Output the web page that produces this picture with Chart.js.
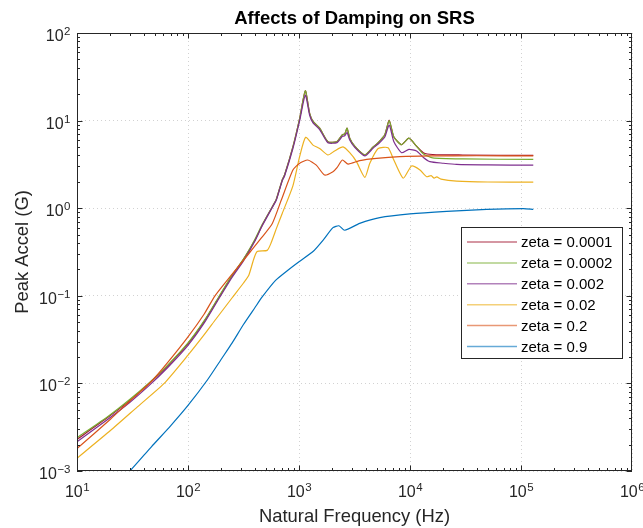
<!DOCTYPE html>
<html>
<head>
<meta charset="utf-8">
<script src="https://cdn.jsdelivr.net/npm/chart.js@4"></script>
<style>
  html, body { margin: 0; padding: 0; background: #fff; }
  #wrap { width: 643px; height: 528px; position: relative; }
</style>
</head>
<body>
<div id="wrap"><canvas id="srs"></canvas></div>
<script>
const FONT = '"Liberation Sans", Arial, Helvetica, sans-serif';

const chartTitle = 'Affects of Damping on SRS';
const xTitle = 'Natural Frequency (Hz)';
const yTitle = 'Peak Accel (G)';

// decade exponents used for the tick labels
const xExps = [1, 2, 3, 4, 5, 6];
const yExps = [-3, -2, -1, 0, 1, 2];

const labels = ['zeta = 0.0001', 'zeta = 0.0002', 'zeta = 0.002', 'zeta = 0.02', 'zeta = 0.2', 'zeta = 0.9'];
const colors = ['#A2142F', '#77AC30', '#7E2F8E', '#EDB120', '#D95319', '#0072BD'];

// zeta = 0.0001
const hz1 = [10, 19, 30, 44, 66, 100, 140, 189, 250, 316, 400, 466, 575, 624, 706, 741, 881, 1014, 1140, 1247, 1337, 1535, 1820, 2200, 2460, 2580, 2710, 2864, 3176, 3918, 4660, 5164, 5930, 6490, 7160, 8400, 9770, 11460, 13200, 16000, 30000, 129000];
const g1  = [0.0023, 0.0041, 0.0064, 0.0098, 0.016, 0.0285, 0.051, 0.095, 0.17, 0.26, 0.43, 0.64, 1.04, 1.26, 2.1, 2.39, 5.0, 10.6, 21.9, 12.1, 9.8, 8.2, 5.75, 5.75, 6.9, 7.0, 8.2, 6.3, 5.1, 4.05, 5.0, 5.6, 6.9, 10.1, 6.5, 5.3, 6.3, 5.1, 4.3, 4.1, 4.05, 4.0];

// zeta = 0.0002
const hz2 = [10, 19, 30, 44, 66, 100, 140, 189, 250, 316, 400, 466, 575, 624, 706, 741, 881, 1014, 1140, 1247, 1337, 1535, 1820, 2200, 2460, 2580, 2710, 2864, 3176, 3918, 4660, 5164, 5930, 6490, 7160, 8400, 9770, 11460, 13200, 16000, 30000, 129000];
const g2  = [0.0024, 0.0042, 0.0066, 0.01, 0.0163, 0.029, 0.052, 0.097, 0.172, 0.262, 0.44, 0.65, 1.04, 1.26, 2.1, 2.39, 5.0, 10.6, 21.9, 12.1, 9.8, 8.2, 5.75, 5.75, 6.9, 7.0, 8.2, 6.3, 5.1, 4.05, 5.0, 5.6, 6.9, 10.0, 6.5, 5.3, 6.3, 5.1, 4.16, 3.75, 3.65, 3.6];

// zeta = 0.002
const hz3 = [10, 19, 30, 44, 66, 100, 140, 189, 250, 316, 400, 466, 575, 624, 706, 741, 881, 1014, 1140, 1247, 1337, 1535, 1820, 2200, 2460, 2580, 2710, 2864, 3176, 3918, 4660, 5164, 5930, 6490, 7160, 8400, 9770, 11460, 13200, 15100, 20000, 26300, 50000, 129000];
const g3  = [0.00216, 0.0039, 0.0061, 0.0093, 0.0153, 0.0272, 0.049, 0.092, 0.163, 0.25, 0.42, 0.63, 1.02, 1.23, 2.05, 2.33, 4.8, 10.0, 19.5, 11.5, 9.4, 7.9, 5.6, 5.6, 6.6, 6.7, 7.3, 6.0, 4.95, 3.95, 4.85, 5.4, 6.5, 8.9, 5.75, 4.3, 4.7, 4.5, 3.8, 3.4, 3.26, 3.16, 3.12, 3.1];

// zeta = 0.02
const hz4 = [10, 20, 35, 61, 100, 140, 178, 250, 316, 353, 390, 420, 517, 560, 630, 706, 881, 1014, 1148, 1337, 1535, 1824, 2090, 2493, 2864, 3294, 3918, 4345, 5164, 6350, 7047, 8690, 10330, 12300, 14130, 15500, 16500, 17400, 19000, 26300, 50000, 129000];
const g4  = [0.0014, 0.0029, 0.0054, 0.01, 0.021, 0.036, 0.054, 0.095, 0.14, 0.172, 0.26, 0.32, 0.33, 0.40, 0.6, 0.87, 1.8, 3.9, 6.45, 5.25, 4.8, 4.05, 4.5, 5.0, 4.3, 3.4, 2.25, 3.26, 4.8, 4.9, 3.7, 2.2, 3.03, 2.73, 2.29, 2.35, 2.2, 2.28, 2.15, 2.04, 1.99, 1.98];

// zeta = 0.2
const hz5 = [10, 20, 30, 46, 66, 100, 140, 175, 250, 351, 460, 575, 693, 881, 1014, 1200, 1432, 1700, 2023, 2200, 2460, 2770, 3520, 4990, 8090, 15000, 40000, 129000];
const g5  = [0.0018, 0.0039, 0.0063, 0.0103, 0.0175, 0.034, 0.062, 0.1, 0.177, 0.3, 0.46, 0.67, 1.24, 2.73, 3.26, 3.55, 3.1, 2.39, 2.61, 2.9, 3.55, 3.19, 3.49, 3.7, 3.87, 3.95, 3.97, 3.95];

// zeta = 0.9
const hz6 = [10, 20, 30, 47, 70, 100, 150, 200, 250, 316, 400, 466, 615, 794, 1000, 1337, 1644, 2023, 2290, 2580, 3520, 5340, 9980, 21400, 49000, 105000, 129000];
const g6  = [0.00024, 0.0006, 0.001, 0.0019, 0.0033, 0.0056, 0.011, 0.019, 0.029, 0.047, 0.073, 0.097, 0.15, 0.196, 0.245, 0.32, 0.43, 0.6, 0.63, 0.56, 0.67, 0.78, 0.86, 0.92, 0.97, 0.99, 0.97];

const series = [[hz1, g1], [hz2, g2], [hz3, g3], [hz4, g4], [hz5, g5], [hz6, g6]];

const AXIS = '#262626';
const GRID = '#d2d2d2';

const isDecade = (v) => Math.abs(Math.log10(v) - Math.round(Math.log10(v))) < 1e-9;

function drawPow(ctx, x, y, exp, align) {
  // "10" with a raised exponent, real text
  const baseFont = `16px ${FONT}`;
  const supFont = `11.5px ${FONT}`;
  const sup = String(exp).replace('-', '\u2212');
  ctx.font = baseFont;
  const wb = ctx.measureText('10').width;
  ctx.font = supFont;
  const we = ctx.measureText(sup).width;
  const left = align === 'right' ? x - wb - we : x - (wb + we) / 2;
  ctx.textAlign = 'left';
  ctx.textBaseline = 'alphabetic';
  ctx.fillStyle = AXIS;
  ctx.font = baseFont;
  ctx.fillText('10', left, y);
  ctx.font = supFont;
  ctx.fillText(sup, left + wb + 0.5, y - 6);
}

const matlabAxes = {
  id: 'matlabAxes',
  afterDatasetsDraw(chart) {
    const { ctx, chartArea: a, scales: { x, y } } = chart;
    ctx.save();

    // box
    ctx.strokeStyle = AXIS;
    ctx.lineWidth = 1;
    ctx.strokeRect(a.left + 0.5, a.top + 0.5, a.right - a.left - 1, a.bottom - a.top - 1);

    // inward ticks on all four sides
    ctx.beginPath();
    for (let e = xExps[0]; e < xExps[xExps.length - 1]; e++) {
      for (let m = 1; m <= 9; m++) {
        const px = Math.round(x.getPixelForValue(m * 10 ** e)) + 0.5;
        const len = m === 1 ? 5.5 : 3;
        ctx.moveTo(px, a.bottom); ctx.lineTo(px, a.bottom - len);
        ctx.moveTo(px, a.top); ctx.lineTo(px, a.top + len);
      }
    }
    for (let e = yExps[0]; e < yExps[yExps.length - 1]; e++) {
      for (let m = 1; m <= 9; m++) {
        const py = Math.round(y.getPixelForValue(m * 10 ** e)) + 0.5;
        const len = m === 1 ? 5.5 : 3;
        ctx.moveTo(a.left, py); ctx.lineTo(a.left + len, py);
        ctx.moveTo(a.right, py); ctx.lineTo(a.right - len, py);
      }
    }
    ctx.stroke();

    // tick labels
    xExps.forEach((e) => drawPow(ctx, x.getPixelForValue(10 ** e), a.bottom + 26, e, 'center'));
    yExps.forEach((e) => drawPow(ctx, a.left - 7, y.getPixelForValue(10 ** e) + 8, e, 'right'));

    // title, centred over the axes
    ctx.font = `bold 18.5px ${FONT}`;
    ctx.fillStyle = '#000';
    ctx.textAlign = 'center';
    ctx.textBaseline = 'alphabetic';
    ctx.fillText(chartTitle, (a.left + a.right) / 2, 24);

    // legend box
    const lw = 161, lh = 131;
    const lx = a.right - 10 - lw, ly = a.top + 194;
    ctx.fillStyle = '#fff';
    ctx.fillRect(lx, ly, lw, lh);
    ctx.strokeStyle = AXIS;
    ctx.lineWidth = 1;
    ctx.strokeRect(lx + 0.5, ly + 0.5, lw, lh);
    ctx.font = `15px ${FONT}`;
    ctx.textAlign = 'left';
    ctx.textBaseline = 'middle';
    chart.data.datasets.forEach((ds, i) => {
      const ry = ly + 15 + i * 20.9;
      ctx.globalAlpha = 0.6;
      ctx.strokeStyle = ds.borderColor;
      ctx.lineWidth = 1.5;
      ctx.beginPath();
      ctx.moveTo(lx + 6, ry); ctx.lineTo(lx + 56, ry);
      ctx.stroke();
      ctx.globalAlpha = 1;
      ctx.fillStyle = '#000';
      ctx.fillText(ds.label, lx + 60, ry + 1);
    });
    ctx.restore();
  },
};

new Chart(document.getElementById('srs'), {
  type: 'line',
  data: {
    datasets: series.map(([hz, g], i) => ({
      label: labels[i],
      data: hz.map((f, k) => ({ x: f, y: g[k] })),
      borderColor: colors[i],
      borderWidth: 1.2,
      pointRadius: 0,
      tension: 0.2,
      fill: false,
      order: series.length - i,
    })),
  },
  options: {
    responsive: true,
    maintainAspectRatio: false,
    animation: false,
    devicePixelRatio: 1,
    layout: { padding: { top: 33, right: 11, left: 0, bottom: 0 } },
    plugins: {
      legend: { display: false },
      tooltip: { enabled: false },
      title: { display: false },
    },
    scales: {
      x: {
        type: 'logarithmic',
        min: 10, max: 1e6,
        ticks: { display: false, autoSkip: false },
        grid: {
          color: (c) => (c.tick && isDecade(c.tick.value) ? GRID : 'rgba(0,0,0,0)'),
          drawTicks: false,
          lineWidth: 1,
        },
        border: { display: false, dash: [1, 3] },
        title: { display: true, text: xTitle, color: AXIS, font: { family: FONT, size: 18.4 }, padding: { top: 0, bottom: 0 } },
        afterFit: (s) => { s.height = 57; },
      },
      y: {
        type: 'logarithmic',
        min: 1e-3, max: 100,
        ticks: { display: false, autoSkip: false },
        grid: {
          color: (c) => (c.tick && isDecade(c.tick.value) ? GRID : 'rgba(0,0,0,0)'),
          drawTicks: false,
          lineWidth: 1,
        },
        border: { display: false, dash: [1, 3] },
        title: { display: true, text: yTitle, color: AXIS, font: { family: FONT, size: 18.4 }, padding: { top: 12, bottom: 0 } },
        afterFit: (s) => { s.width = 77; },
      },
    },
  },
  plugins: [matlabAxes],
});
</script>
</body>
</html>
